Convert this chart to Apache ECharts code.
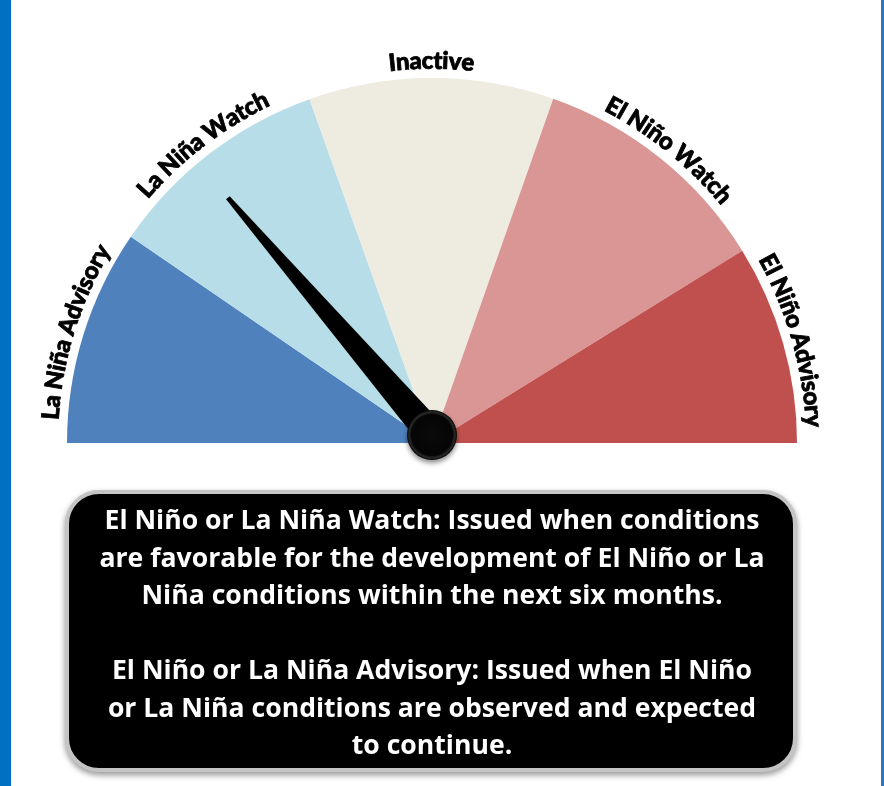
<!DOCTYPE html>
<html>
<head>
<meta charset="utf-8">
<script src="https://cdn.jsdelivr.net/npm/echarts@6/dist/echarts.min.js"></script>
<style>
  html, body { margin: 0; padding: 0; background: #fff; }
  #main { width: 884px; height: 786px; }
</style>
</head>
<body>
<div id="main"></div>
<script>
// stages of the ENSO alert system, left to right
var stages = ['La Niña Advisory', 'La Niña Watch', 'Inactive', 'El Niño Watch', 'El Niño Advisory'];
// angular span of each stage on the half dial (degrees, sum = 180)
var stageSpans = [34.4, 36, 39, 38.8, 31.8];
// needle position, degrees from the left end of the dial
var needleValue = 49.3;
var noteLines = [
  'El Niño or La Niña Watch: Issued when conditions',
  'are favorable for the development of El Niño or La',
  'Niña conditions within the next six months.',
  '',
  'El Niño or La Niña Advisory: Issued when El Niño',
  'or La Niña conditions are observed and expected',
  'to continue.'
];

var palette = ['#4f81bd', '#b7dde8', '#eeece1', '#d99694', '#c0504d'];
var cx = 432, cy = 443, R = 365;
var labelFont = '900 24px Lato, "Open Sans", sans-serif';

var chart = echarts.init(document.getElementById('main'));

var pieData = stages.map(function (s, i) {
  return { name: s, value: stageSpans[i], itemStyle: { color: palette[i] } };
});
pieData.push({ name: 'rest', value: 180, itemStyle: { color: 'transparent' }, emphasis: { disabled: true } });

// curved labels: one text element per character, laid along the arc
var ctx = document.createElement('canvas').getContext('2d');
ctx.font = labelFont;
var labelEls = [];
var acc = 0;
stages.forEach(function (s, i) {
  var mid = acc + stageSpans[i] / 2;
  acc += stageSpans[i];
  var rt = R + 17;
  var total = ctx.measureText(s).width;
  var pos = mid * Math.PI / 180 - total / 2 / rt;
  for (var k = 0; k < s.length; k++) {
    var w = ctx.measureText(s[k]).width;
    var a = pos + w / 2 / rt;
    pos += w / rt;
    labelEls.push({
      type: 'text',
      x: cx - rt * Math.cos(a),
      y: cy - rt * Math.sin(a),
      rotation: Math.PI / 2 - a,
      style: {
        text: s[k], font: labelFont, fill: '#000',
        align: 'center', verticalAlign: 'middle',
        stroke: '#000', lineWidth: 0.8,
        shadowColor: 'rgba(0,0,0,0.35)', shadowBlur: 2
      }
    });
  }
});

chart.setOption({
  animation: false,
  graphic: [
    { type: 'rect', shape: { x: 0, y: 0, width: 11, height: 786 }, style: { fill: '#0070c0' } },
    { type: 'rect', shape: { x: 881, y: 0, width: 3, height: 786 }, style: { fill: '#2e75c6' } },
    {
      type: 'rect',
      shape: { x: 67, y: 492, width: 728, height: 278, r: 32 },
      style: {
        fill: '#000', stroke: '#c4c4c4', lineWidth: 4,
        shadowColor: 'rgba(0,0,0,0.35)', shadowBlur: 6, shadowOffsetY: 3
      }
    },
    {
      type: 'text',
      x: cx, y: 634,
      style: {
        text: noteLines.join('\n'),
        font: 'bold 26.6px "Open Sans", Lato, sans-serif',
        fill: '#fff', align: 'center', verticalAlign: 'middle',
        lineHeight: 37.5
      }
    }
  ].concat(labelEls),
  series: [
    {
      type: 'pie',
      z: 1,
      center: [cx, cy],
      radius: [0, R],
      startAngle: 180,
      clockwise: true,
      silent: true,
      label: { show: false },
      labelLine: { show: false },
      itemStyle: { borderWidth: 0 },
      data: pieData
    },
    {
      type: 'gauge',
      z: 10,
      center: [cx, 435],
      radius: R,
      min: 0,
      max: 180,
      startAngle: 180,
      endAngle: 0,
      axisLine: { show: false },
      splitLine: { show: false },
      axisTick: { show: false },
      axisLabel: { show: false },
      title: { show: false },
      detail: { show: false },
      pointer: {
        show: true,
        icon: 'path://M42,0 L58,0 L100,100 L0,100 Z',
        length: 313,
        width: 30,
        itemStyle: { color: '#000' }
      },
      anchor: {
        show: true,
        showAbove: true,
        size: 50,
        itemStyle: {
          color: {
            type: 'radial', x: 0.5, y: 0.5, r: 0.5,
            colorStops: [
              { offset: 0, color: '#0a0a0a' },
              { offset: 0.82, color: '#050505' },
              { offset: 0.92, color: '#2a2a2a' },
              { offset: 1, color: '#000' }
            ]
          },
          shadowColor: 'rgba(0,0,0,0.45)', shadowBlur: 5, shadowOffsetY: 3
        }
      },
      data: [{ value: needleValue }]
    }
  ]
});
</script>
</body>
</html>
